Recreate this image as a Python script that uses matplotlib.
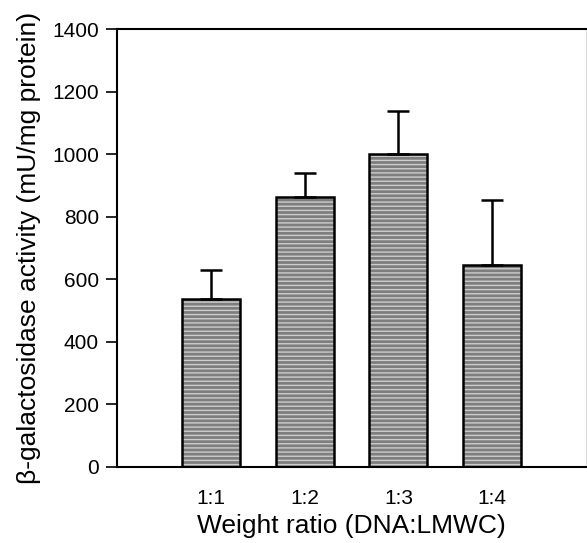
import matplotlib
matplotlib.use("Agg")
from matplotlib import pyplot as plt

plt.rcParams['font.family'] = ['Liberation Sans', 'DejaVu Sans']
plt.rcParams['hatch.linewidth'] = 1.0

# data
ratios = ['1:1', '1:2', '1:3', '1:4']
activity = [536, 862, 1002, 646]
activity_sd = [94, 77, 136, 207]

fig = plt.figure(figsize=(5.87, 5.43), dpi=100)
ax = fig.add_axes([117 / 587, 1 - 467 / 543, 469 / 587, 438 / 543])

x = [1, 2, 3, 4]
# gray fill with light horizontal stripes, then black outline on top
ax.bar(x, activity, width=0.62, color='#7e7e7e', edgecolor='#cdcdcd',
       linewidth=0, hatch='----', zorder=2)
ax.bar(x, activity, width=0.62, fill=False, edgecolor='black',
       linewidth=1.8, zorder=3)
ax.errorbar(x, activity, yerr=[[0] * 4, activity_sd], fmt='none',
            ecolor='black', elinewidth=1.8, capsize=8, capthick=1.8, zorder=4)

ax.set_xlim(0, 5)
ax.set_ylim(0, 1400)
ax.set_yticks(range(0, 1401, 200))
ax.set_xticks(x)
ax.set_xticklabels(ratios)
ax.tick_params(axis='x', length=0, pad=16, labelsize=15)
ax.tick_params(axis='y', direction='out', length=8, width=1.2, labelsize=15, pad=5)

ax.spines['left'].set_linewidth(1.5)
ax.spines['bottom'].set_linewidth(1.5)
ax.spines['top'].set_linewidth(1.5)
ax.spines['right'].set_linewidth(0.5)
ax.spines['right'].set_color('#cccccc')

ax.set_xlabel('Weight ratio (DNA:LMWC)', fontsize=19, labelpad=4)
ax.set_ylabel('β-galactosidase activity (mU/mg protein)', fontsize=19, labelpad=8)

fig.savefig('out.png', dpi=100)
